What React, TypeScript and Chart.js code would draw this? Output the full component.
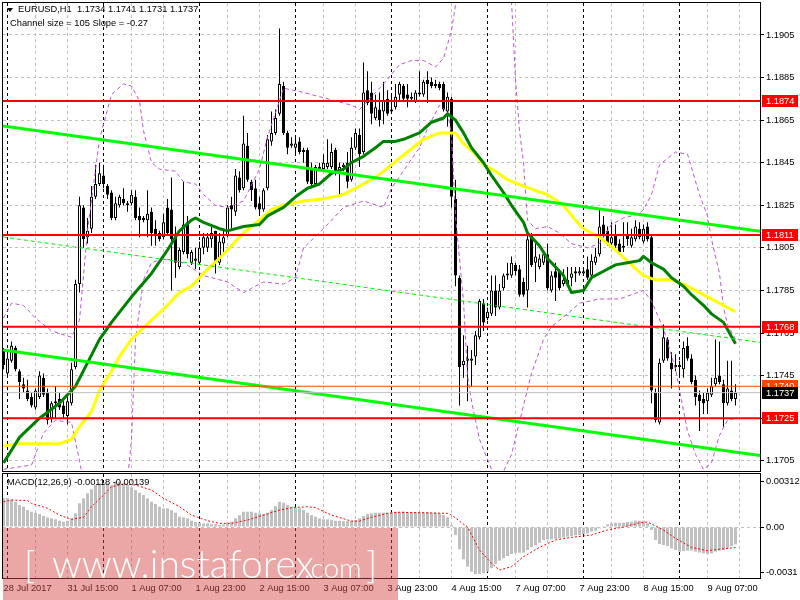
import React, { useEffect, useRef } from "react";
import { Chart, registerables } from "chart.js";

Chart.register(...registerables);

const FONT = '"Liberation Sans", Arial, Helvetica, sans-serif';
const WM_FONT = 'Lato, "Open Sans", "Liberation Sans", sans-serif';
const FS = 9.3;

// EURUSD H1 — bar index 0 = 28 Jul 2017 23:00 ... 183 = 9 Aug 2017 14:00
const opens = [
  1.1757, 1.1746, 1.1752, 1.1758, 1.1747, 1.1741, 1.1738, 1.1735, 1.1730, 1.1735,
  1.1744, 1.1737, 1.1725, 1.1732, 1.1734, 1.1731, 1.1726, 1.1732, 1.1749, 1.1788,
  1.1824, 1.1810, 1.1814, 1.1829, 1.1835, 1.1839, 1.1834, 1.1831, 1.1819, 1.1825,
  1.1828, 1.1826, 1.1826, 1.1829, 1.1820, 1.1819, 1.1818, 1.1822, 1.1814, 1.1812,
  1.1810, 1.1824, 1.1823, 1.1810, 1.1796, 1.1803, 1.1817, 1.1798, 1.1799, 1.1798,
  1.1805, 1.1805, 1.1809, 1.1813, 1.1798, 1.1807, 1.1811, 1.1825, 1.1822, 1.1838,
  1.1833, 1.1853, 1.1836, 1.1833, 1.1826, 1.1823, 1.1833, 1.1855, 1.1859, 1.1868,
  1.1881, 1.1859, 1.1853, 1.1852, 1.1855, 1.1851, 1.1851, 1.1842, 1.1835, 1.1842,
  1.1842, 1.1843, 1.1843, 1.1851, 1.1841, 1.1843, 1.1845, 1.1837, 1.1852, 1.1858,
  1.1850, 1.1879, 1.1878, 1.1866, 1.1870, 1.1869, 1.1875, 1.1869, 1.1871, 1.1877,
  1.1881, 1.1877, 1.1875, 1.1874, 1.1877, 1.1877, 1.1884, 1.1883, 1.1882, 1.1882,
  1.1882, 1.1869, 1.1875, 1.1828, 1.1791, 1.1750, 1.1752, 1.1752, 1.1754, 1.1763,
  1.1779, 1.1772, 1.1774, 1.1785, 1.1777, 1.1786, 1.1792, 1.1792, 1.1797, 1.1795,
  1.1789, 1.1785, 1.1811, 1.1798, 1.1796, 1.1798, 1.1802, 1.1785, 1.1794, 1.1794,
  1.1788, 1.1788, 1.1791, 1.1794, 1.1793, 1.1793, 1.1795, 1.1792, 1.1798, 1.1802,
  1.1816, 1.1813, 1.1807, 1.1811, 1.1807, 1.1805, 1.1811, 1.1806, 1.1809, 1.1814,
  1.1808, 1.1815, 1.1810, 1.1737, 1.1723, 1.1752, 1.1762, 1.1751, 1.1749, 1.1750,
  1.1748, 1.1759, 1.1753, 1.1743, 1.1736, 1.1734, 1.1733, 1.1736, 1.1741, 1.1745,
  1.1741, 1.1732, 1.1738, 1.1734,
];
const highs = [
  1.1758, 1.1756, 1.1761, 1.1759, 1.1748, 1.1744, 1.1743, 1.1737, 1.1739, 1.1747,
  1.1746, 1.1739, 1.1733, 1.1740, 1.1737, 1.1733, 1.1736, 1.1751, 1.1790, 1.1829,
  1.1825, 1.1819, 1.1834, 1.1844, 1.1845, 1.1844, 1.1835, 1.1832, 1.1829, 1.1830,
  1.1833, 1.1827, 1.1832, 1.1832, 1.1824, 1.1820, 1.1832, 1.1824, 1.1818, 1.1813,
  1.1821, 1.1828, 1.1838, 1.1815, 1.1805, 1.1836, 1.1820, 1.1804, 1.1805, 1.1808,
  1.1812, 1.1812, 1.1816, 1.1813, 1.1812, 1.1814, 1.1825, 1.1829, 1.1842, 1.1841,
  1.1867, 1.1859, 1.1837, 1.1837, 1.1829, 1.1833, 1.1858, 1.1869, 1.1870, 1.1908,
  1.1883, 1.1860, 1.1857, 1.1857, 1.1857, 1.1852, 1.1852, 1.1845, 1.1844, 1.1845,
  1.1849, 1.1856, 1.1854, 1.1852, 1.1845, 1.1845, 1.1850, 1.1857, 1.1861, 1.1861,
  1.1892, 1.1888, 1.1883, 1.1877, 1.1878, 1.1883, 1.1879, 1.1877, 1.1882, 1.1883,
  1.1882, 1.1882, 1.1878, 1.1879, 1.1888, 1.1884, 1.1888, 1.1885, 1.1884, 1.1883,
  1.1883, 1.1878, 1.1876, 1.1837, 1.1792, 1.1764, 1.1759, 1.1757, 1.1766, 1.1781,
  1.1781, 1.1777, 1.1792, 1.1792, 1.1788, 1.1793, 1.1798, 1.1801, 1.1798, 1.1797,
  1.1791, 1.1812, 1.1812, 1.1807, 1.1802, 1.1804, 1.1807, 1.1794, 1.1798, 1.1795,
  1.1795, 1.1796, 1.1796, 1.1796, 1.1796, 1.1796, 1.1801, 1.1802, 1.1805, 1.1823,
  1.1820, 1.1815, 1.1817, 1.1816, 1.1809, 1.1817, 1.1817, 1.1814, 1.1818, 1.1817,
  1.1816, 1.1817, 1.1811, 1.1739, 1.1753, 1.1769, 1.1763, 1.1756, 1.1755, 1.1752,
  1.1761, 1.1763, 1.1755, 1.1745, 1.1738, 1.1737, 1.1739, 1.1744, 1.1762, 1.1761,
  1.1743, 1.1752, 1.1752, 1.1741,
];
const lows = [
  1.1748, 1.1745, 1.1751, 1.1747, 1.1734, 1.1737, 1.1733, 1.1730, 1.1729, 1.1734,
  1.1735, 1.1722, 1.1723, 1.1725, 1.1729, 1.1725, 1.1722, 1.1731, 1.1748, 1.1784,
  1.1805, 1.1807, 1.1812, 1.1828, 1.1834, 1.1833, 1.1828, 1.1818, 1.1818, 1.1824,
  1.1825, 1.1822, 1.1825, 1.1818, 1.1810, 1.1817, 1.1810, 1.1806, 1.1806, 1.1808,
  1.1809, 1.1811, 1.1785, 1.1791, 1.1795, 1.1802, 1.1800, 1.1797, 1.1795, 1.1797,
  1.1802, 1.1803, 1.1805, 1.1793, 1.1797, 1.1803, 1.1810, 1.1814, 1.1820, 1.1831,
  1.1832, 1.1836, 1.1827, 1.1823, 1.1820, 1.1822, 1.1832, 1.1853, 1.1858, 1.1867,
  1.1858, 1.1849, 1.1852, 1.1849, 1.1849, 1.1845, 1.1835, 1.1833, 1.1834, 1.1841,
  1.1841, 1.1842, 1.1842, 1.1839, 1.1830, 1.1841, 1.1833, 1.1836, 1.1851, 1.1843,
  1.1849, 1.1872, 1.1863, 1.1865, 1.1862, 1.1863, 1.1867, 1.1868, 1.1870, 1.1874,
  1.1874, 1.1871, 1.1874, 1.1873, 1.1876, 1.1876, 1.1873, 1.1880, 1.1880, 1.1879,
  1.1869, 1.1862, 1.1824, 1.1787, 1.1731, 1.1744, 1.1733, 1.1740, 1.1750, 1.1762,
  1.1766, 1.1771, 1.1773, 1.1773, 1.1776, 1.1785, 1.1790, 1.1791, 1.1792, 1.1782,
  1.1782, 1.1777, 1.1796, 1.1789, 1.1795, 1.1797, 1.1785, 1.1784, 1.1780, 1.1785,
  1.1787, 1.1787, 1.1787, 1.1789, 1.1792, 1.1792, 1.1790, 1.1791, 1.1797, 1.1801,
  1.1810, 1.1806, 1.1806, 1.1805, 1.1802, 1.1803, 1.1806, 1.1805, 1.1808, 1.1809,
  1.1807, 1.1808, 1.1732, 1.1723, 1.1722, 1.1751, 1.1752, 1.1739, 1.1747, 1.1744,
  1.1744, 1.1752, 1.1741, 1.1731, 1.1719, 1.1727, 1.1727, 1.1735, 1.1740, 1.1741,
  1.1721, 1.1731, 1.1733, 1.1731,
];
const closes = [
  1.1750, 1.1753, 1.1759, 1.1748, 1.1742, 1.1739, 1.1734, 1.1731, 1.1738, 1.1745,
  1.1736, 1.1724, 1.1732, 1.1733, 1.1730, 1.1727, 1.1733, 1.1748, 1.1788, 1.1825,
  1.1809, 1.1813, 1.1829, 1.1835, 1.1840, 1.1835, 1.1830, 1.1819, 1.1826, 1.1829,
  1.1826, 1.1825, 1.1830, 1.1819, 1.1818, 1.1818, 1.1821, 1.1812, 1.1811, 1.1809,
  1.1817, 1.1812, 1.1809, 1.1798, 1.1804, 1.1816, 1.1802, 1.1803, 1.1800, 1.1805,
  1.1810, 1.1810, 1.1812, 1.1799, 1.1808, 1.1810, 1.1824, 1.1823, 1.1839, 1.1832,
  1.1854, 1.1837, 1.1832, 1.1824, 1.1823, 1.1832, 1.1856, 1.1859, 1.1866, 1.1882,
  1.1859, 1.1852, 1.1854, 1.1854, 1.1850, 1.1850, 1.1836, 1.1835, 1.1843, 1.1843,
  1.1845, 1.1845, 1.1850, 1.1841, 1.1843, 1.1844, 1.1836, 1.1852, 1.1859, 1.1849,
  1.1878, 1.1873, 1.1868, 1.1871, 1.1865, 1.1874, 1.1868, 1.1870, 1.1876, 1.1882,
  1.1875, 1.1875, 1.1876, 1.1878, 1.1878, 1.1883, 1.1882, 1.1881, 1.1881, 1.1880,
  1.1870, 1.1876, 1.1829, 1.1792, 1.1749, 1.1752, 1.1753, 1.1753, 1.1764, 1.1780,
  1.1770, 1.1775, 1.1785, 1.1777, 1.1785, 1.1792, 1.1793, 1.1798, 1.1794, 1.1783,
  1.1783, 1.1809, 1.1797, 1.1801, 1.1800, 1.1802, 1.1786, 1.1792, 1.1791, 1.1786,
  1.1790, 1.1790, 1.1793, 1.1793, 1.1794, 1.1794, 1.1791, 1.1799, 1.1801, 1.1815,
  1.1811, 1.1807, 1.1810, 1.1806, 1.1803, 1.1806, 1.1809, 1.1810, 1.1815, 1.1810,
  1.1814, 1.1809, 1.1738, 1.1724, 1.1751, 1.1763, 1.1753, 1.1748, 1.1750, 1.1749,
  1.1758, 1.1753, 1.1742, 1.1735, 1.1733, 1.1732, 1.1737, 1.1740, 1.1744, 1.1742,
  1.1732, 1.1739, 1.1734, 1.1737,
];

// Dark green moving average (bar index, price)
const maGreenIdx = [0, 4, 9, 14, 18, 21, 24, 27, 32, 37, 41, 44, 47, 48, 50, 54, 56, 60, 64, 66, 70, 73, 76, 79, 82, 85, 87, 90, 93, 95, 98, 100, 104, 107, 110, 111, 113, 115, 117, 120, 122, 125, 127, 130, 131, 134, 136, 140, 142, 145, 147, 150, 153, 156, 159, 160, 162, 165, 167, 170, 172, 175, 177, 180, 183];
const maGreenVal = [1.1704, 1.1716, 1.1725, 1.1732, 1.1740, 1.1751, 1.1762, 1.1770, 1.1782, 1.1793, 1.1804, 1.1813, 1.1818, 1.1819, 1.1817, 1.1814, 1.1813, 1.1815, 1.1816, 1.1820, 1.1824, 1.1829, 1.1833, 1.1835, 1.1840, 1.1842, 1.1845, 1.1848, 1.1852, 1.1855, 1.1855, 1.1856, 1.1859, 1.1864, 1.1866, 1.1868, 1.1865, 1.1859, 1.1852, 1.1845, 1.1839, 1.1831, 1.1825, 1.1817, 1.1812, 1.1806, 1.1800, 1.1792, 1.1784, 1.1785, 1.1791, 1.1794, 1.1797, 1.1798, 1.1799, 1.1801, 1.1798, 1.1795, 1.1791, 1.1787, 1.1783, 1.1778, 1.1774, 1.1770, 1.1760];

// Yellow moving average
const maYellowIdx = [0, 4, 9, 14, 17, 19, 22, 24, 27, 29, 32, 37, 41, 44, 47, 50, 55, 60, 64, 67, 70, 75, 80, 85, 90, 93, 97, 101, 105, 109, 111, 113, 115, 118, 120, 123, 126, 130, 133, 136, 140, 143, 145, 149, 153, 157, 160, 163, 167, 170, 174, 178, 181, 183];
const maYellowVal = [1.1712, 1.1713, 1.1713, 1.1713, 1.1715, 1.1721, 1.1728, 1.1738, 1.1747, 1.1754, 1.1762, 1.1771, 1.1778, 1.1784, 1.1787, 1.1793, 1.1802, 1.1812, 1.1818, 1.1823, 1.1825, 1.1827, 1.1828, 1.1830, 1.1835, 1.1838, 1.1844, 1.1850, 1.1856, 1.1859, 1.1859, 1.1859, 1.1854, 1.1849, 1.1844, 1.1841, 1.1837, 1.1834, 1.1832, 1.1830, 1.1825, 1.1818, 1.1814, 1.1810, 1.1804, 1.1797, 1.1792, 1.1790, 1.1790, 1.1788, 1.1784, 1.1780, 1.1777, 1.1775];

// Envelope bands (purple dashed)
const bandUpperIdx = [0, 2, 5, 8, 12, 17, 19, 21, 24, 27, 30, 32, 34, 35, 37, 39, 43, 45, 48, 50, 53, 56, 60, 64, 66, 70, 75, 79, 83, 87, 89, 91, 95, 99, 102, 105, 108, 110, 112, 114, 119, 124, 127, 128, 129, 130, 131, 133, 136, 139, 142, 146, 149, 152, 155, 159, 160, 162, 164, 168, 171, 174, 176, 177, 179, 180, 181, 183];
const bandUpperVal = [1.1772, 1.1779, 1.1778, 1.1772, 1.1766, 1.1763, 1.1771, 1.1813, 1.1856, 1.1877, 1.1882, 1.1881, 1.1874, 1.1860, 1.1845, 1.1842, 1.1841, 1.1836, 1.1835, 1.1830, 1.1825, 1.1824, 1.1827, 1.1842, 1.1857, 1.1880, 1.1878, 1.1876, 1.1874, 1.1872, 1.1870, 1.1874, 1.1882, 1.1891, 1.1893, 1.1893, 1.1890, 1.1894, 1.1907, 1.1931, 1.1950, 1.1940, 1.1921, 1.1884, 1.1860, 1.1845, 1.1818, 1.1814, 1.1815, 1.1812, 1.1807, 1.1805, 1.1807, 1.1816, 1.1819, 1.1821, 1.1823, 1.1830, 1.1844, 1.1850, 1.1849, 1.1830, 1.1820, 1.1809, 1.1793, 1.1777, 1.1769, 1.1762];
const bandLowerIdx = [0, 7, 10, 13, 17, 19, 22, 27, 30, 32, 33, 35, 37, 40, 45, 50, 56, 60, 62, 65, 70, 73, 75, 80, 85, 90, 95, 97, 101, 104, 106, 109, 111, 112, 113, 115, 116, 117, 119, 122, 124, 127, 130, 132, 135, 137, 141, 144, 149, 154, 157, 160, 162, 165, 168, 171, 173, 175, 177, 179, 181, 183];
const bandLowerVal = [1.1701, 1.1703, 1.1718, 1.1724, 1.1723, 1.1705, 1.1677, 1.1658, 1.1677, 1.1715, 1.1762, 1.1790, 1.1798, 1.1800, 1.1798, 1.1792, 1.1789, 1.1784, 1.1786, 1.1789, 1.1788, 1.1791, 1.1805, 1.1814, 1.1824, 1.1827, 1.1824, 1.1833, 1.1844, 1.1852, 1.1861, 1.1872, 1.1869, 1.1858, 1.1820, 1.1780, 1.1745, 1.1733, 1.1715, 1.1701, 1.1696, 1.1708, 1.1731, 1.1746, 1.1762, 1.1768, 1.1774, 1.1779, 1.1781, 1.1781, 1.1783, 1.1785, 1.1780, 1.1767, 1.1748, 1.1719, 1.1708, 1.1701, 1.1704, 1.1717, 1.1724, 1.1725];

// Regression channel (bright green)
const chanIdx = [-0.125, 189.125];
const chanUpper = [1.18622, 1.18128];
const chanMiddle = [1.18101, 1.17606];
const chanLower = [1.1757, 1.17075];

// Horizontal levels
const levels = [1.1874, 1.1811, 1.1768, 1.1725];
const askLevel = 1.174;
const bidLevel = 1.1737;

// MACD histogram (main line) and signal
const macdHist = [
  0.00197, 0.00197, 0.00188, 0.00172, 0.00149, 0.00138, 0.00115, 0.00104, 0.00097, 0.00088,
  0.00075, 0.00066, 0.00059, 0.00052, 0.00043, 0.00036, 0.00043, 0.00059, 0.00093, 0.00161,
  0.00195, 0.00229, 0.00256, 0.00285, 0.00296, 0.00300, 0.00296, 0.00285, 0.00307, 0.00307,
  0.00296, 0.00285, 0.00269, 0.00251, 0.00233, 0.00217, 0.00195, 0.00172, 0.00156, 0.00138,
  0.00127, 0.00127, 0.00115, 0.00097, 0.00070, 0.00066, 0.00059, 0.00043, 0.00034, 0.00029,
  0.00025, 0.00025, 0.00020, 0.00020, 0.00014, 0.00018, 0.00029, 0.00036, 0.00059, 0.00081,
  0.00104, 0.00104, 0.00104, 0.00097, 0.00093, 0.00088, 0.00097, 0.00115, 0.00142, 0.00172,
  0.00165, 0.00149, 0.00138, 0.00131, 0.00127, 0.00115, 0.00097, 0.00081, 0.00070, 0.00059,
  0.00052, 0.00052, 0.00047, 0.00043, 0.00043, 0.00040, 0.00040, 0.00043, 0.00047, 0.00059,
  0.00075, 0.00088, 0.00093, 0.00097, 0.00097, 0.00097, 0.00097, 0.00100, 0.00104, 0.00104,
  0.00104, 0.00100, 0.00100, 0.00100, 0.00100, 0.00100, 0.00100, 0.00097, 0.00097, 0.00093,
  0.00081, 0.00066, 0.00014, -0.00054, -0.00151, -0.00219, -0.00269, -0.00303, -0.00319, -0.00319,
  -0.00314, -0.00303, -0.00280, -0.00251, -0.00228, -0.00212, -0.00197, -0.00183, -0.00174, -0.00174,
  -0.00174, -0.00156, -0.00138, -0.00122, -0.00107, -0.00088, -0.00084, -0.00084, -0.00081, -0.00077,
  -0.00070, -0.00065, -0.00061, -0.00056, -0.00054, -0.00047, -0.00043, -0.00031, -0.00025, -0.00009,
  0.00007, 0.00018, 0.00025, 0.00029, 0.00029, 0.00029, 0.00034, 0.00036, 0.00043, 0.00043,
  0.00043, 0.00025, -0.00020, -0.00088, -0.00115, -0.00122, -0.00129, -0.00145, -0.00156, -0.00167,
  -0.00163, -0.00160, -0.00160, -0.00167, -0.00174, -0.00179, -0.00183, -0.00179, -0.00167, -0.00160,
  -0.00156, -0.00145, -0.00130, -0.00118,
];
const signalIdx = [0, 2, 6, 7, 11, 14, 17, 20, 22, 25, 27, 30, 33, 37, 40, 44, 47, 51, 54, 57, 61, 65, 69, 72, 76, 78, 82, 87, 89, 92, 96, 99, 111, 112, 116, 119, 122, 124, 127, 130, 134, 138, 142, 147, 151, 155, 159, 161, 165, 168, 172, 176, 183];
const signalVal = [0.00172, 0.00183, 0.0018, 0.00161, 0.00127, 0.00081, 0.00052, 0.00066, 0.00138, 0.00217, 0.00273, 0.00292, 0.00285, 0.00251, 0.00195, 0.00138, 0.00081, 0.00043, 0.00025, 0.00025, 0.00047, 0.00081, 0.00115, 0.00131, 0.00138, 0.00131, 0.00081, 0.0004, 0.0004, 0.00066, 0.00093, 0.001, 0.00093, 0.00081, 0.0, -0.00156, -0.00246, -0.00292, -0.00269, -0.00201, -0.00138, -0.00088, -0.0007, -0.00054, -0.0002, 0.0, 0.00029, 0.00034, -0.0002, -0.00077, -0.00138, -0.0016, -0.00139];

// Axes
const priceTicks = [1.1705, 1.1725, 1.1745, 1.1765, 1.1785, 1.1805, 1.1825, 1.1845, 1.1865, 1.1885, 1.1905];
const macdTickValues = [-0.0031, 0, 0.00312];
const macdTickLabels = ["-0.0031", "0.00", "0.00312"];
const timeLabels = ["28 Jul 2017", "31 Jul 15:00", "1 Aug 07:00", "1 Aug 23:00", "2 Aug 15:00", "3 Aug 07:00", "3 Aug 23:00", "4 Aug 15:00", "7 Aug 07:00", "7 Aug 23:00", "8 Aug 15:00", "9 Aug 07:00"];
const timeLabelIdx = [0, 16, 32, 48, 64, 80, 96, 112, 128, 144, 160, 176];
const dayStartIdx = [1, 25, 49, 73, 97, 121, 145, 169];
const gridIdx = [8, 16, 32, 40, 56, 64, 80, 88, 104, 112, 128, 136, 152, 160, 176, 184];

const X_MIN = -0.125;
const X_MAX = 189.125;
const Y_MIN = 1.17002;
const Y_MAX = 1.192;
const MACD_MIN = -0.00346;
const MACD_MAX = 0.0036;

const pts = (idx: number[], vals: number[]) => idx.map((x, k) => ({ x, y: vals[k] }));

const timeTicks = () => {
  const s = new Set<number>([...gridIdx, ...dayStartIdx, ...timeLabelIdx]);
  return Array.from(s).sort((a, b) => a - b).map((value) => ({ value }));
};
const timeGridColor = (v: number) => {
  if (dayStartIdx.includes(v)) return "#000000";
  if (gridIdx.includes(v)) return "#C0C0C0";
  return "rgba(0,0,0,0)";
};

const lineDs = (data: any[], color: string, width: number, dash: number[], order: number) => ({
  type: "line",
  data,
  borderColor: color,
  borderWidth: width,
  borderDash: dash,
  pointRadius: 0,
  fill: false,
  tension: 0,
  order,
  borderCapStyle: "butt",
  borderJoinStyle: "round",
});

const framePlugin = {
  id: "frame",
  afterDraw(chart: any) {
    const { ctx, chartArea: a } = chart;
    ctx.save();
    ctx.strokeStyle = "#000";
    ctx.lineWidth = 1;
    ctx.setLineDash([]);
    ctx.strokeRect(a.left - 0.5, a.top - 0.5, a.right - a.left + 1, a.bottom - a.top + 1);
    ctx.restore();
  },
};

const tagPlugin = {
  id: "tags",
  afterDraw(chart: any) {
    const { ctx, chartArea: a } = chart;
    const y = chart.scales.y;
    const draw = (v: number, bg: string) => {
      const py = Math.round(y.getPixelForValue(v));
      ctx.save();
      ctx.fillStyle = bg;
      ctx.fillRect(a.right + 2, py - 6, 36, 12);
      ctx.fillStyle = "#FFFFFF";
      ctx.font = `${FS}px ${FONT}`;
      ctx.textBaseline = "middle";
      ctx.textAlign = "left";
      ctx.fillText(v.toFixed(4), a.right + 6, py + 0.5);
      ctx.restore();
    };
    levels.forEach((v) => draw(v, "#FF0000"));
    draw(askLevel, "#FF4500");
    draw(bidLevel, "#000000");
  },
};

function mainConfig(): any {
  const idx = opens.map((_, i) => i);
  const wicks = idx.map((i) => ({ x: i, y: [lows[i], highs[i]] }));
  const bodies = idx.map((i) => ({ x: i, y: [opens[i], closes[i]] }));
  const bodyColors = idx.map((i) => (closes[i] >= opens[i] ? "#FFFFFF" : "#000000"));
  const full = (v: number) => [
    { x: X_MIN, y: v },
    { x: X_MAX, y: v },
  ];
  const datasets: any[] = [
    {
      type: "bar",
      data: wicks,
      backgroundColor: "#000000",
      borderWidth: 0,
      barThickness: 1,
      grouped: false,
      inflateAmount: 0,
      order: 21,
    },
    {
      type: "bar",
      data: bodies,
      backgroundColor: bodyColors,
      borderColor: "#000000",
      borderWidth: 1,
      borderSkipped: false,
      barThickness: 3,
      grouped: false,
      inflateAmount: 0,
      minBarLength: 1,
      order: 20,
    },
    lineDs(pts(bandUpperIdx, bandUpperVal), "#BA55D3", 1, [4, 3], 12),
    lineDs(pts(bandLowerIdx, bandLowerVal), "#BA55D3", 1, [4, 3], 12),
    lineDs(pts(maYellowIdx, maYellowVal), "#FFFF00", 3, [], 10),
    lineDs(pts(maGreenIdx, maGreenVal), "#008000", 3, [], 9),
    lineDs(pts(chanIdx, chanUpper), "#00FF00", 3, [], 7),
    lineDs(pts(chanIdx, chanLower), "#00FF00", 3, [], 7),
    lineDs(pts(chanIdx, chanMiddle), "#00EE00", 1, [4, 3], 7),
    lineDs(full(askLevel), "#FF4500", 1, [], 6),
    lineDs(full(bidLevel), "#C0C0C0", 1, [], 6),
    ...levels.map((v) => lineDs(full(v), "#FF0000", 2, [], 5)),
  ];
  return {
    type: "bar",
    data: { datasets },
    options: {
      responsive: false,
      animation: false,
      devicePixelRatio: 1,
      events: [],
      layout: { padding: { left: 3, top: 3, right: 0, bottom: 1 } },
      plugins: { legend: { display: false }, tooltip: { enabled: false } },
      scales: {
        x: {
          type: "linear",
          min: X_MIN,
          max: X_MAX,
          offset: false,
          afterBuildTicks: (s: any) => {
            s.ticks = timeTicks();
          },
          afterFit: (s: any) => {
            s.height = 0;
            s.paddingLeft = 0;
            s.paddingRight = 0;
          },
          ticks: { display: false },
          grid: {
            offset: false,
            drawTicks: false,
            lineWidth: 1,
            color: (c: any) => timeGridColor(c.tick ? c.tick.value : -1),
          },
          border: { display: false, dash: [3, 3] },
        },
        y: {
          type: "linear",
          position: "right",
          min: Y_MIN,
          max: Y_MAX,
          beginAtZero: false,
          afterBuildTicks: (s: any) => {
            s.ticks = priceTicks.map((value) => ({ value }));
          },
          afterFit: (s: any) => {
            s.width = 40;
            s.paddingTop = 0;
            s.paddingBottom = 0;
          },
          ticks: {
            color: "#000000",
            padding: 2,
            font: { family: FONT, size: FS },
            callback: (v: any) => Number(v).toFixed(4),
          },
          grid: {
            color: "#C0C0C0",
            lineWidth: 1,
            drawTicks: true,
            tickLength: 4,
            tickColor: "#000000",
            tickBorderDash: [],
          },
          border: { display: false, dash: [3, 3] },
        },
      },
    },
    plugins: [framePlugin, tagPlugin],
  };
}

function macdConfig(): any {
  const hist = macdHist.map((v, i) => ({ x: i, y: v }));
  return {
    type: "bar",
    data: {
      datasets: [
        {
          type: "bar",
          data: hist,
          backgroundColor: "#C0C0C0",
          borderWidth: 0,
          barThickness: 3,
          grouped: false,
          inflateAmount: 0,
          order: 5,
        },
        lineDs(pts(signalIdx, signalVal), "#FF0000", 1, [2, 2], 1),
      ],
    },
    options: {
      responsive: false,
      animation: false,
      devicePixelRatio: 1,
      events: [],
      layout: { padding: { left: 3, top: 2, right: 0, bottom: 0 } },
      plugins: { legend: { display: false }, tooltip: { enabled: false } },
      scales: {
        x: {
          type: "linear",
          min: X_MIN,
          max: X_MAX,
          offset: false,
          afterBuildTicks: (s: any) => {
            s.ticks = timeTicks();
          },
          afterFit: (s: any) => {
            s.height = 22;
            s.paddingLeft = 0;
            s.paddingRight = 0;
          },
          ticks: {
            display: true,
            autoSkip: false,
            maxRotation: 0,
            minRotation: 0,
            align: "start",
            padding: 5,
            color: "#000000",
            font: { family: FONT, size: FS },
            callback: (v: any) => {
              const k = timeLabelIdx.indexOf(Number(v));
              return k >= 0 ? timeLabels[k] : "";
            },
          },
          grid: {
            offset: false,
            drawTicks: false,
            lineWidth: 1,
            color: (c: any) => timeGridColor(c.tick ? c.tick.value : -1),
          },
          border: { display: false, dash: [3, 3] },
        },
        y: {
          type: "linear",
          position: "right",
          min: MACD_MIN,
          max: MACD_MAX,
          beginAtZero: false,
          afterBuildTicks: (s: any) => {
            s.ticks = macdTickValues.map((value) => ({ value }));
          },
          afterFit: (s: any) => {
            s.width = 40;
            s.paddingTop = 0;
            s.paddingBottom = 0;
          },
          ticks: {
            color: "#000000",
            padding: 2,
            font: { family: FONT, size: FS },
            callback: (v: any) => {
              const k = macdTickValues.indexOf(Number(v));
              return k >= 0 ? macdTickLabels[k] : "";
            },
          },
          grid: {
            color: (c: any) => (c.tick && c.tick.value === 0 ? "#C0C0C0" : "rgba(0,0,0,0)"),
            lineWidth: 1,
            drawTicks: true,
            tickLength: 4,
            tickColor: "#000000",
            tickBorderDash: [],
          },
          border: { display: false, dash: [3, 3] },
        },
      },
    },
    plugins: [framePlugin],
  };
}

const txt = (left: number, top: number, size: number, family: string = FONT): React.CSSProperties => ({
  position: "absolute",
  left,
  top,
  fontFamily: family,
  fontSize: size,
  lineHeight: `${size}px`,
  whiteSpace: "pre",
  color: "#000000",
});

export default function App() {
  const mainRef = useRef<HTMLCanvasElement>(null);
  const macdRef = useRef<HTMLCanvasElement>(null);

  useEffect(() => {
    const c1 = new Chart(mainRef.current as HTMLCanvasElement, mainConfig());
    const c2 = new Chart(macdRef.current as HTMLCanvasElement, macdConfig());
    return () => {
      c1.destroy();
      c2.destroy();
    };
  }, []);

  const wm: React.CSSProperties = { color: "#FFFFFF", fontWeight: 300 };

  return (
    <div
      style={{
        position: "fixed",
        left: 0,
        top: 0,
        width: 800,
        height: 600,
        background: "#FFFFFF",
        overflow: "hidden",
      }}
    >
      <canvas
        ref={mainRef}
        width={800}
        height={472}
        style={{ position: "absolute", left: 0, top: 0, width: 800, height: 472 }}
      />
      <canvas
        ref={macdRef}
        width={800}
        height={128}
        style={{ position: "absolute", left: 0, top: 472, width: 800, height: 128 }}
      />
      <div
        style={{
          position: "absolute",
          left: 7,
          top: 8,
          width: 0,
          height: 0,
          borderLeft: "3px solid transparent",
          borderRight: "3px solid transparent",
          borderTop: "4px solid #000",
        }}
      />
      <div style={txt(18, 5, FS)}>EURUSD,H1  1.1734 1.1741 1.1731 1.1737</div>
      <div style={txt(10, 19, FS)}>Channel size = 105 Slope = -0.27</div>
      <div style={txt(7, 478, FS)}>MACD(12,26,9) -0.00118 -0.00139</div>

      <div
        style={{
          position: "absolute",
          left: 3,
          top: 528,
          width: 395,
          height: 72,
          background: "rgba(214,68,68,0.48)",
        }}
      />
      <div style={{ ...txt(24, 544, 38, WM_FONT), ...wm }}>[</div>
      <div style={{ ...txt(52, 544, 39, WM_FONT), ...wm }}>www.instaforex</div>
      <div style={{ ...txt(304, 553, 28, WM_FONT), ...wm }}>.com</div>
      <div style={{ ...txt(366, 544, 38, WM_FONT), ...wm }}>]</div>
    </div>
  );
}
